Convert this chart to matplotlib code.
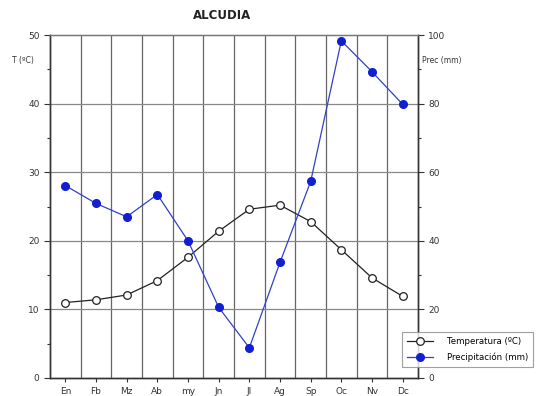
import matplotlib
matplotlib.use("Agg")
import matplotlib.pyplot as plt
from matplotlib.ticker import MultipleLocator

months = ["En", "Fb", "Mz", "Ab", "my", "Jn", "Jl", "Ag", "Sp", "Oc", "Nv", "Dc"]
temperature = [11.0, 11.4, 12.1, 14.2, 17.6, 21.4, 24.6, 25.2, 22.8, 18.7, 14.6, 11.9]
precipitation = [56.1, 50.9, 47.0, 53.5, 40.0, 20.6, 8.8, 33.7, 57.3, 98.3, 89.3, 79.8]

fig = plt.figure(figsize=(5.39, 3.96), dpi=100)
ax = fig.add_axes([0.0928, 0.0455, 0.6827, 0.866])
ax2 = ax.twinx()

x = list(range(len(months)))
ax.set_xlim(-0.5, 11.5)
ax.set_ylim(0, 50)
ax2.set_ylim(0, 100)

# grid
for v in [i + 0.5 for i in range(11)]:
    ax.axvline(v, color="#666666", lw=0.9, zorder=0)
for h in [10, 20, 30, 40]:
    ax.axhline(h, color="#888888", lw=0.9, zorder=0)

lt, = ax.plot(x, temperature, color="#222222", lw=0.9, marker="o", ms=5.5,
              mfc="white", mec="#222222", mew=0.9, zorder=3, label="Temperatura (ºC)")
lp, = ax2.plot(x, precipitation, color="#3340c8", lw=0.9, marker="o", ms=5.5,
               mfc="#1020d0", mec="#1020d0", zorder=3, label="Precipitación (mm)")

ax.set_xticks(x)
ax.set_xticklabels(months)
ax.yaxis.set_major_locator(MultipleLocator(10))
ax.yaxis.set_minor_locator(MultipleLocator(5))
ax2.yaxis.set_major_locator(MultipleLocator(20))
ax2.yaxis.set_minor_locator(MultipleLocator(10))

for a in (ax, ax2):
    a.tick_params(labelsize=6.5, colors="#333333", length=4, width=0.8)
    a.tick_params(which="minor", length=2.5, width=0.8, colors="#333333")
    for s in ["left", "right", "bottom"]:
        a.spines[s].set_color("#333333")
        a.spines[s].set_linewidth(1.0)
    a.spines["top"].set_color("#777777")
    a.spines["top"].set_linewidth(0.9)
ax.tick_params(axis="x", length=3)

fig.text(0.412, 0.960, "ALCUDIA", ha="center", va="center", fontsize=8.5, fontweight="bold", color="#222222")
fig.text(0.022, 0.848, "T (ºC)", ha="left", va="center", fontsize=5.5, color="#333333")
fig.text(0.783, 0.848, "Prec (mm)", ha="left", va="center", fontsize=5.5, color="#333333")

leg = fig.legend(handles=[lt, lp], loc="lower left", bbox_to_anchor=(0.738, 0.062),
                 fontsize=6.2, frameon=True, fancybox=False, edgecolor="#888888",
                 borderpad=0.6, labelspacing=0.7, handlelength=3.0, handletextpad=1.6)
leg.get_frame().set_linewidth(0.8)

fig.savefig("out.png", dpi=100)
